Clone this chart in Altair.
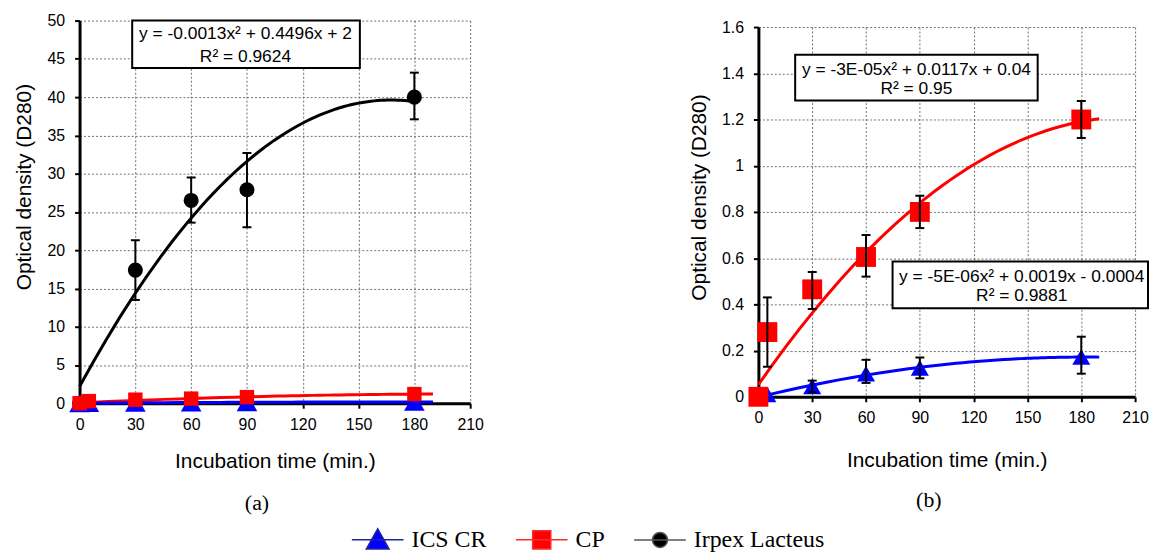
import altair as alt
import pandas as pd

# ---------------- data ----------------
SERIES = ["ICS CR", "CP", "Irpex Lacteus"]
COLORS = ["#0000ff", "#ff0000", "#000000"]
LEGEND_LINE = ["#23239c", "#ff2a2a", "#555555"]

times = [0, 5, 30, 60, 90, 180]
ics_val = [0.0, 0.01, 0.045, 0.10, 0.125, 0.172]
ics_lo = [0.0, 0.01, 0.02, 0.06, 0.08, 0.10]
ics_hi = [0.0, 0.01, 0.07, 0.16, 0.17, 0.26]
cp_val = [0.0, 0.28, 0.465, 0.605, 0.80, 1.20]
cp_lo = [0.0, 0.13, 0.38, 0.52, 0.73, 1.12]
cp_hi = [0.0, 0.43, 0.54, 0.70, 0.87, 1.28]
irpex_times = [0, 30, 60, 90, 180]
irpex_val = [0.0, 17.4, 26.5, 27.9, 40.0]
irpex_lo = [0.0, 13.5, 23.6, 23.0, 37.1]
irpex_hi = [0.0, 21.3, 29.5, 32.7, 43.2]

# the 5-min readings are not part of the fitted trend series
trend_exclude_time = 5

x_ticks = [0, 30, 60, 90, 120, 150, 180, 210]
y_ticks_a = [0, 5, 10, 15, 20, 25, 30, 35, 40, 45, 50]
y_ticks_b = [0, 0.2, 0.4, 0.6, 0.8, 1.0, 1.2, 1.4, 1.6]

eq_a = ["y = -0.0013x\u00b2 + 0.4496x + 2", "R\u00b2 = 0.9624"]
eq_b1 = ["y = -3E-05x\u00b2 + 0.0117x + 0.04", "R\u00b2 = 0.95"]
eq_b2 = ["y = -5E-06x\u00b2 + 0.0019x - 0.0004", "R\u00b2 = 0.9881"]

XTITLE = "Incubation time (min.)"
YTITLE = "Optical density (D280)"
SANS = "Liberation Sans"
SERIF = "Liberation Serif"

# legend symbols: line + marker (unit coordinates)
LEG_PATHS = [
    "M-1,0H1M0,-0.42L0.44,0.36L-0.44,0.36Z",
    "M-1,0H1M-0.35,-0.35H0.35V0.35H-0.35Z",
    "M-1,0H1M-0.29,0A0.29,0.29 0 1,0 0.29,0A0.29,0.29 0 1,0 -0.29,0Z",
]


def series_df(name, t, v, lo, hi):
    return pd.DataFrame({"series": name, "time": t, "value": v, "lo": lo, "hi": hi})


df_ics = series_df("ICS CR", times, ics_val, ics_lo, ics_hi)
df_cp = series_df("CP", times, cp_val, cp_lo, cp_hi)
df_irpex = series_df("Irpex Lacteus", irpex_times, irpex_val, irpex_lo, irpex_hi)
df_ics_fit = df_ics[df_ics["time"] != trend_exclude_time]
df_cp_fit = df_cp[df_cp["time"] != trend_exclude_time]

color_scale = alt.Scale(domain=SERIES, range=COLORS)


def panel(spec):
    xs = alt.Scale(domain=[0, 210], nice=False, zero=False)
    ys = alt.Scale(domain=spec["ydomain"], nice=False, zero=False)
    xaxis = alt.Axis(values=x_ticks, title=XTITLE, grid=True, gridDash=[2, 2],
                     gridColor="#6e6e6e", gridWidth=1, domainColor="black",
                     domainWidth=3, tickColor="black", tickWidth=2, tickSize=5,
                     labelFont=SANS, labelFontSize=16, labelColor="black",
                     labelPadding=8, titleFont=SANS, titleFontSize=21,
                     titleFontWeight="normal", titleColor="black",
                     titlePadding=spec["xtp"], labelFlush=False)
    yaxis = alt.Axis(values=spec["yticks"], format="~g", title=YTITLE, grid=True,
                     gridDash=[2, 2], gridColor="#6e6e6e", gridWidth=1,
                     domainColor="black", domainWidth=3, tickColor="black",
                     tickWidth=2, tickSize=5, labelFont=SANS, labelFontSize=16,
                     labelColor="black", labelPadding=10, titleFont=SANS,
                     titleFontSize=21, titleFontWeight="normal",
                     titleColor="black", titlePadding=spec["ytp"],
                     titleY=spec["titleY"], labelFlush=False)

    def X(f):
        return alt.X(f, scale=xs, axis=xaxis, title=XTITLE)

    def Y(f):
        return alt.Y(f, scale=ys, axis=yaxis, title=YTITLE)

    layers = []
    # equation boxes
    for box, lines, tpos in spec["boxes"]:
        bdf = pd.DataFrame([box])
        layers.append(
            alt.Chart(bdf).mark_rect(fill="white", stroke="black", strokeWidth=2)
            .encode(x=X("x1:Q"), x2="x2:Q", y=Y("y1:Q"), y2="y2:Q"))
        tdf = pd.DataFrame({"label": lines, "tx": [tpos[0]] * len(lines),
                            "ty": tpos[1]})
        layers.append(
            alt.Chart(tdf).mark_text(font=SANS, fontSize=17.5, color="black",
                                     align="center", baseline="middle")
            .encode(x=X("tx:Q"), y=Y("ty:Q"), text="label:N"))
    # trend lines (polynomial order 2, computed by Vega-Lite)
    for df, col, ext in spec["trends"]:
        layers.append(
            alt.Chart(df).transform_regression("time", "value", method="poly",
                                               order=2, extent=[0, ext])
            .mark_line(color=col, strokeWidth=3)
            .encode(x=X("time:Q"), y=Y("value:Q")))
    # markers
    for df, col, shape, size in spec["markers"]:
        layers.append(
            alt.Chart(df).mark_point(filled=True, shape=shape, size=size,
                                     color=col, opacity=1)
            .encode(x=X("time:Q"), y=Y("value:Q")))
    # error bars
    for df in spec["errors"]:
        e = df[df["hi"] - df["lo"] > 1e-9]
        layers.append(
            alt.Chart(e).mark_rule(color="black", strokeWidth=2)
            .encode(x=X("time:Q"), y=Y("lo:Q"), y2="hi:Q"))
        for f in ["lo", "hi"]:
            layers.append(
                alt.Chart(e).mark_tick(orient="horizontal", color="black",
                                       thickness=2, size=9, opacity=1)
                .encode(x=X("time:Q"), y=Y(f + ":Q")))
    # legend carrier
    if spec.get("legend"):
        leg_df = pd.DataFrame({"series": SERIES})
        lg = dict(title=None, orient="none", legendX=273, legendY=495,
                  direction="horizontal", symbolSize=2704, symbolStrokeWidth=1.5,
                  labelFont=SERIF, labelFontSize=24, labelColor="black",
                  labelOffset=7, columnPadding=26, padding=0)
        layers.append(
            alt.Chart(leg_df).transform_filter("false")
            .mark_point(filled=True, opacity=1)
            .encode(color=alt.Color("series:N", scale=color_scale,
                                    legend=alt.Legend(**lg)),
                    shape=alt.Shape("series:N",
                                    scale=alt.Scale(domain=SERIES, range=LEG_PATHS),
                                    legend=alt.Legend(**lg)),
                    stroke=alt.Stroke("series:N",
                                      scale=alt.Scale(domain=SERIES, range=LEGEND_LINE),
                                      legend=alt.Legend(**lg))))
    return alt.layer(*layers).properties(
        width=spec["width"], height=spec["height"],
        title=alt.TitleParams(spec["label"], orient="bottom", font=SERIF,
                              fontSize=22, fontWeight="normal", color="black",
                              anchor="middle", frame="group", dx=-18,
                              offset=spec["toff"]))


left = panel({
    "ydomain": [0, 50], "yticks": y_ticks_a, "xtp": 19, "ytp": 13, "titleY": 167,
    "width": 393, "height": 385, "label": "(a)", "toff": 21,
    "boxes": [({"x1": 28.3, "x2": 150.7, "y1": 43.8, "y2": 50.0}, eq_a,
               (89.2, [48.2, 45.3]))],
    "trends": [(df_irpex, "#000000", 180), (df_cp_fit, "#ff0000", 190),
               (df_ics_fit, "#0000ff", 190)],
    "markers": [(df_irpex, "#000000", "circle", 230),
                (df_ics, "#0000ff", "triangle-up", 430),
                (df_cp, "#ff0000", "square", 210)],
    "errors": [df_irpex],
    "legend": True,
})

right = panel({
    "ydomain": [0, 1.6], "yticks": y_ticks_b, "xtp": 24, "ytp": 12, "titleY": 171,
    "width": 379, "height": 372, "label": "(b)", "toff": 20,
    "boxes": [({"x1": 20.5, "x2": 155.7, "y1": 1.282, "y2": 1.480}, eq_b1,
               (88.1, [1.415, 1.333])),
              ({"x1": 74.8, "x2": 217.2, "y1": 0.383, "y2": 0.585}, eq_b2,
               (146.8, [0.520, 0.434]))],
    "trends": [(df_cp_fit, "#ff0000", 190), (df_ics_fit, "#0000ff", 190)],
    "markers": [(df_ics, "#0000ff", "triangle-up", 330),
                (df_cp, "#ff0000", "square", 400)],
    "errors": [df_cp, df_ics],
})

chart = alt.hconcat(left, right, spacing=290, center=True, bounds="flush").properties(
    padding={"left": 5, "top": 3, "right": 0, "bottom": 0}
).configure_view(stroke=None)

chart.save("out.html", embed_options={"renderer": "svg", "actions": False})
